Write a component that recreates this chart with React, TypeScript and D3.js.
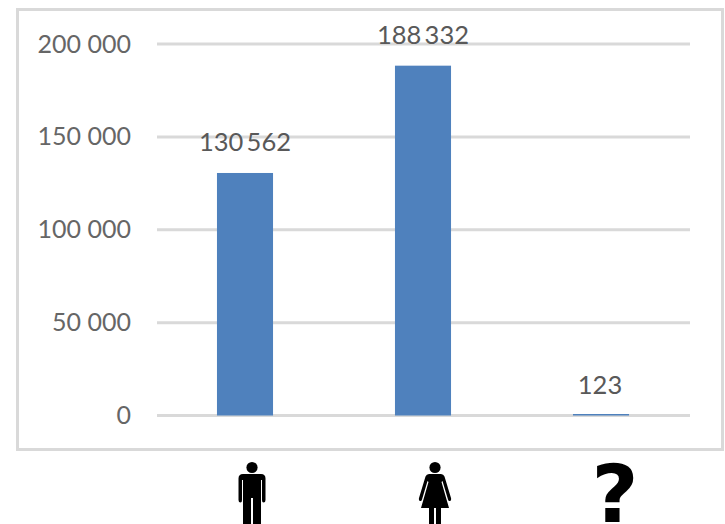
import React from "react";
import * as d3 from "d3";

const categories = ["men", "women", "unknown"];
const values = [130562, 188332, 123];
const yTicks = [0, 50000, 100000, 150000, 200000];

const WIDTH = 725;
const HEIGHT = 524;
const FONT = "Lato, 'Open Sans', sans-serif";
const fmt = (v: number) => String(v).replace(/\B(?=(\d{3})+$)/g, "\u2009");
const tickFmt = (v: number) => String(v).replace(/\B(?=(\d{3})+$)/g, " ");

function Man({ x }: { x: number }) {
  return (
    <g transform={`translate(${x},462)`} fill="#000">
      <circle cx={0} cy={5.5} r={5.6} />
      <path d="M-9,12 Q-13.5,12 -13.5,16.5 L-13.5,38 Q-13.5,40.5 -11.5,40.5 Q-10,40.5 -10,38 L-10,18 L-9,18 L-9,62 L-1,62 L-1,36 L1,36 L1,62 L9,62 L9,18 L10,18 L10,38 Q10,40.5 11.5,40.5 Q13.5,40.5 13.5,38 L13.5,16.5 Q13.5,12 9,12 Z" />
    </g>
  );
}

function Woman({ x }: { x: number }) {
  return (
    <g transform={`translate(${x},462)`} fill="#000">
      <circle cx={0} cy={5.5} r={5.6} />
      <path d="M-6,12 L6,12 Q8.5,12 9.5,14.5 L16,36 Q16.5,38.5 15,39 Q13.5,39.5 13,37.5 L7.5,19 L6.5,20 L14,46 L6,46 L6,62 L1,62 L1,46 L-1,46 L-1,62 L-6,62 L-6,46 L-14,46 L-6.5,20 L-7.5,19 L-13,37.5 Q-13.5,39.5 -15,39 Q-16.5,38.5 -16,36 L-9.5,14.5 Q-8.5,12 -6,12 Z" />
    </g>
  );
}

export default function App() {
  const y = d3.scaleLinear().domain([0, 200000]).range([415.5, 44]);
  const x = d3.scaleBand<string>().domain(categories).range([156, 690]).paddingInner(0.685).paddingOuter(0.3425);

  return (
    <svg
      width={WIDTH}
      height={HEIGHT}
      viewBox={`0 0 ${WIDTH} ${HEIGHT}`}
      style={{ position: "absolute", left: 0, top: 0, background: "#fff" }}
    >
      <rect x={17.5} y={9.5} width={705} height={440} fill="#fff" stroke="#d9d9d9" strokeWidth={3} />
      {yTicks.map((t) => (
        <g key={t}>
          <line x1={157} x2={690} y1={y(t)} y2={y(t)} stroke="#d9d9d9" strokeWidth={3} />
          <text x={131} y={y(t) + 8.5} textAnchor="end" fontFamily={FONT} fontSize={25} fill="#666666">
            {tickFmt(t)}
          </text>
        </g>
      ))}
      {categories.map((c, i) => {
        const top = y(values[i]);
        const h = Math.max(y(0) - top, 1.5);
        return (
          <g key={c}>
            <rect x={x(c)} y={y(0) - h} width={x.bandwidth()} height={h} fill="#4f81bd" />
            <text
              x={x(c)! + x.bandwidth() / 2 - (i === 2 ? 1 : 0)}
              y={top - 21.5}
              textAnchor="middle"
              fontFamily={FONT}
              fontSize={25.5}
              fill="#595959"
            >
              {fmt(values[i])}
            </text>
          </g>
        );
      })}
      <Man x={252} />
      <Woman x={435} />
      <text
        x={615}
        y={522}
        textAnchor="middle"
        fontFamily="'DejaVu Sans', sans-serif"
        fontWeight={700}
        fontSize={81}
        fill="#000"
      >
        ?
      </text>
    </svg>
  );
}
